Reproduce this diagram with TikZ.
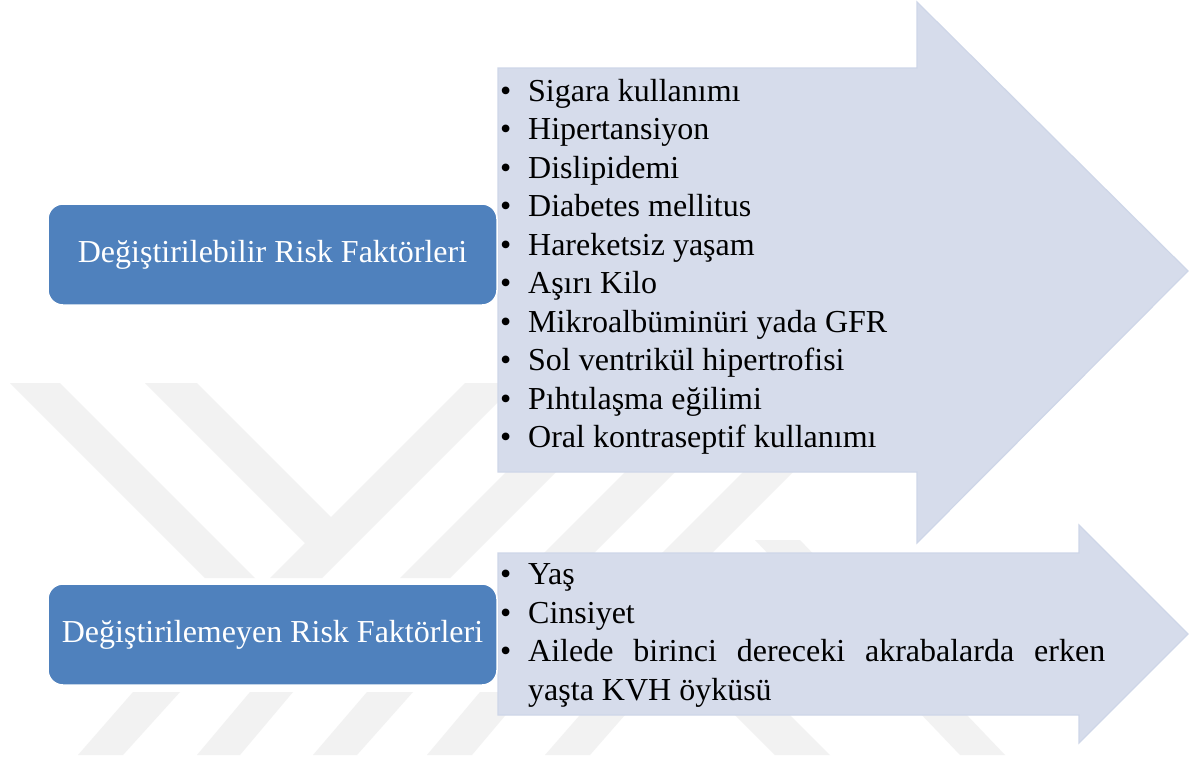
\documentclass[tikz,border=0pt]{standalone}
\usepackage{fontspec}
\setmainfont{Liberation Serif}

% one list entry with a bullet and a hanging indent; ends its own paragraph
\newcommand\riskitem[1]{\noindent\hangindent=28pt\hangafter=1\makebox[28pt][l]{\textbullet}#1\par}

\begin{document}
\begin{tikzpicture}[x=1pt,y=-1pt]
\definecolor{boxblue}{RGB}{79,129,189}
\definecolor{arrowfill}{RGB}{214,220,235}
\definecolor{arrowedge}{RGB}{206,214,232}
\definecolor{wmgray}{RGB}{242,242,242}
\tikzset{
  wmband/.style={fill=wmgray, draw=none},
  bigarrow/.style={fill=arrowfill, draw=arrowedge, line width=1.2pt, line join=miter},
  factorbox/.style={fill=boxblue, draw=white, line width=1.5pt, rounded corners=15pt,
    minimum width=449pt, minimum height=101pt, inner sep=0pt,
    text=white, font=\fontsize{32}{38.5}\selectfont},
  itemlist/.style={anchor=base west, text width=605pt, align=justify, inner sep=0pt,
    font=\fontsize{32}{38.5}\selectfont},
}
\useasboundingbox (0,0) rectangle (1194,761);
\fill[white] (0,0) rectangle (1194,761);

% faint background emblem: upper chevrons
\fill[wmband] (10,383) -- (60,383) -- (255,578) -- (205,578) -- cycle;
\fill[wmband] (145,383) -- (197,383) -- (331,517) -- (465,383) -- (517,383)
  -- (322,578) -- (270,578) -- (305,543) -- cycle;
\fill[wmband] (400,578) -- (450,578) -- (645,383) -- (595,383) -- cycle;
\fill[wmband] (519,578) -- (569,578) -- (764,383) -- (714,383) -- cycle;
\fill[wmband] (637,578) -- (687,578) -- (882,383) -- (832,383) -- cycle;
\fill[wmband] (755,540) -- (800,540) -- (1005,755) -- (960,755) -- cycle;
% faint background emblem: lower stripes
\fill[wmband] (78,755) -- (123,755) -- (180,692) -- (133,692) -- cycle;
\fill[wmband] (197,755) -- (240,755) -- (293,692) -- (250,692) -- cycle;
\fill[wmband] (313,755) -- (357,755) -- (413,692) -- (367,692) -- cycle;
\fill[wmband] (427,755) -- (472,755) -- (525,692) -- (480,692) -- cycle;
\fill[wmband] (545,755) -- (590,755) -- (645,692) -- (600,692) -- cycle;
\fill[wmband] (720,700) -- (775,700) -- (830,755) -- (775,755) -- cycle;

% block arrows
\path[bigarrow] (498,68) -- (917,68) -- (917,2) -- (1188,271) -- (917,543)
  -- (917,472) -- (498,472) -- cycle;
\path[bigarrow] (498,553) -- (1079,553) -- (1079,525) -- (1188,634) -- (1079,743)
  -- (1079,715) -- (498,715) -- cycle;

% category boxes
\node[factorbox] (modifiable) at (272.5,254.5) {Değiştirilebilir Risk Faktörleri};
\node[factorbox] (fixed) at (272.5,634.5) {Değiştirilemeyen Risk Faktörleri};

% factor lists
\node[itemlist] (modlist) at (500,101) {%
  \riskitem{Sigara kullanımı}%
  \riskitem{Hipertansiyon}%
  \riskitem{Dislipidemi}%
  \riskitem{Diabetes mellitus}%
  \riskitem{Hareketsiz yaşam}%
  \riskitem{Aşırı Kilo}%
  \riskitem{Mikroalbüminüri yada GFR}%
  \riskitem{Sol ventrikül hipertrofisi}%
  \riskitem{Pıhtılaşma eğilimi}%
  \riskitem{Oral kontraseptif kullanımı}};
\node[itemlist] (fixlist) at (500,584.5) {%
  \riskitem{Yaş}%
  \riskitem{Cinsiyet}%
  \riskitem{Ailede birinci dereceki akrabalarda erken\linebreak yaşta KVH öyküsü}};
\end{tikzpicture}
\end{document}
